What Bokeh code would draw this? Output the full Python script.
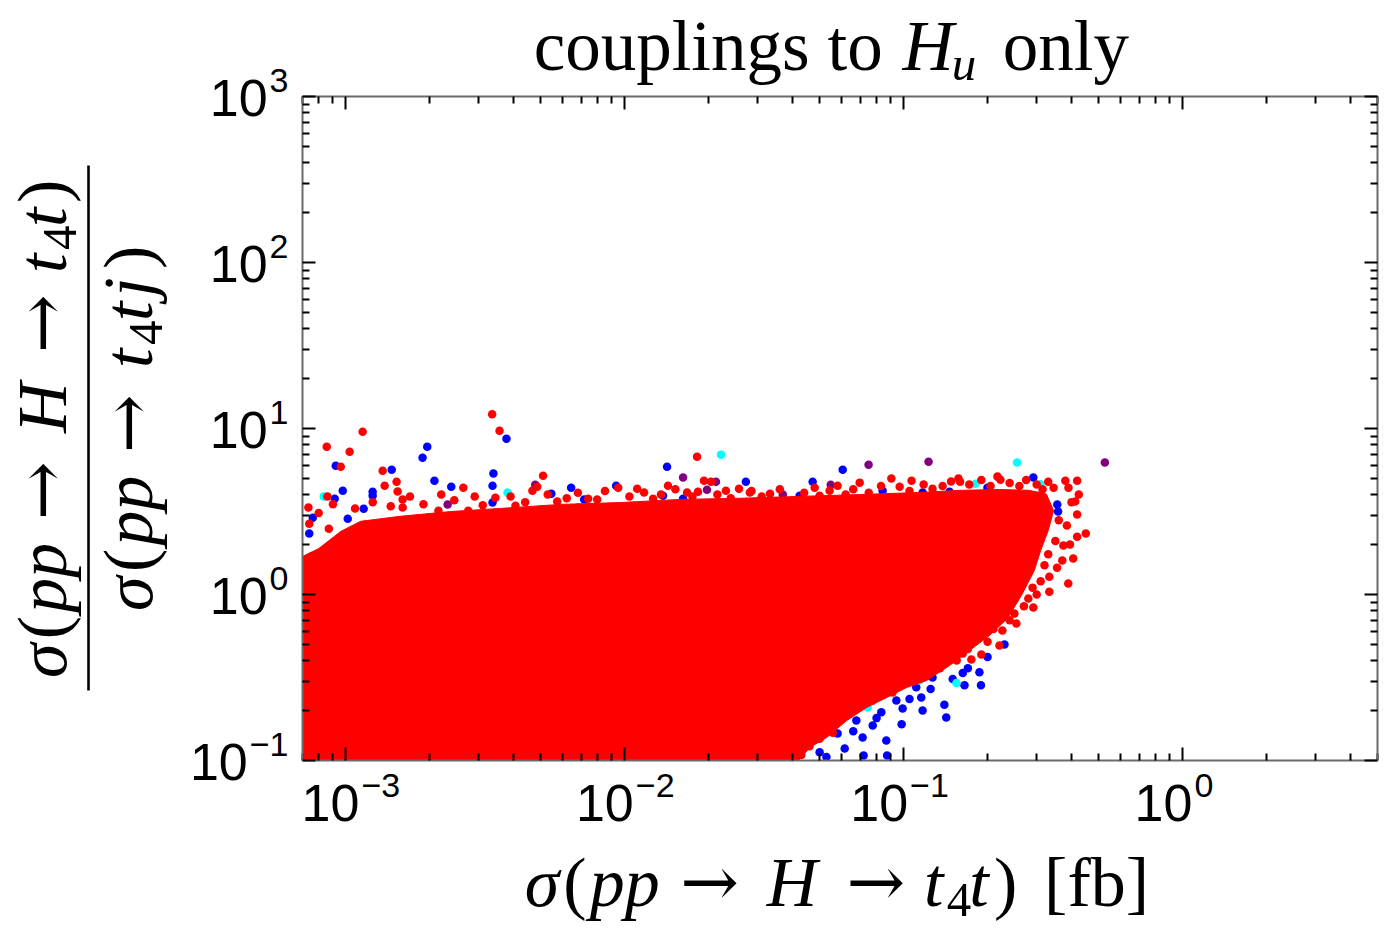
import math
from bokeh.plotting import figure
from bokeh.models import Range1d, LogAxis, FixedTicker, CustomJSTickFormatter
from bokeh.layouts import row, column
from bokeh.core.properties import value
from bokeh.embed import file_html
from bokeh.resources import INLINE

# ---------------- data ----------------
X_MIN, X_MAX = 7e-4, 5.0
Y_MIN, Y_MAX = 0.1, 1000.0

x_major = [1e-3, 1e-2, 1e-1, 1.0]
x_exponents = ["\u22123", "\u22122", "\u22121", "0"]
y_major = [0.1, 1.0, 10.0, 100.0, 1000.0]
y_exponents = ["\u22121", "0", "1", "2", "3"]

# outline of the dense (solid) red cloud
red_region_x = [6e-4, 6e-4, 8.0e-4, 9.6e-4, 1.131e-3, 1.573e-3, 2.376e-3, 3.585e-3, 5.88e-3,
                9.64e-3, 0.0158, 0.0259, 0.0424, 0.0696, 0.114, 0.1586, 0.2206, 0.2823,
                0.325, 0.345, 0.33, 0.31, 0.2942, 0.2644, 0.2355, 0.2031, 0.1722,
                0.1461, 0.1209, 0.1025, 0.0869, 0.0737, 0.0625, 0.053, 0.0461, 0.0375]
red_region_y = [0.08, 1.49, 1.89, 2.4, 2.76, 2.96, 3.16, 3.3, 3.49,
                3.58, 3.74, 3.8, 3.9, 4.0, 4.12, 4.24, 4.29, 4.24,
                4.03, 3.20, 2.43, 1.84, 1.393, 0.985, 0.716, 0.566, 0.4595,
                0.373, 0.303, 0.275, 0.2394, 0.2085, 0.174, 0.1376, 0.1198, 0.08]

red_x = [3.35e-3, 3.56e-3, 1.15e-3, 8.55e-4, 1.033e-3, 9.6e-4, 1.357e-3, 1.522e-3, 1.379e-3,
         1.535e-3, 5.1e-3, 2.64e-3, 8.6e-4, 7.35e-4, 0.01265, 0.01174, 0.01109, 9.48e-3,
         7.97e-3, 7.4e-3, 5.73e-3, 4.86e-3, 4.67e-3, 3.44e-3, 2.2e-3, 1.6e-3,
         0.01818, 0.0143, 0.01925, 0.0204, 0.02307, 0.0257, 0.0904, 0.1068, 0.1573, 0.217,
         0.0696, 0.058, 0.127, 0.0543, 0.01674, 0.01832, 0.0968, 0.0281, 0.0332, 0.05,
         0.1594, 0.2224, 0.330, 0.380, 0.419, 0.4247, 0.4124, 0.419, 0.45, 0.419, 0.3706,
         0.4056, 0.3894, 0.333, 0.333, 0.2918, 0.28, 0.2537, 0.226, 0.2206, 0.190, 0.175,
         0.374, 0.2495, 0.187, 0.163, 0.108, 0.0913, 0.0775, 0.0557,
         7.4e-4, 8.7e-4, 1.6e-3, 2.15e-3, 2.75e-3, 4.06e-3, 6.82e-3,
         8.0e-4, 9.0e-4, 1.08e-3, 1.25e-3, 1.45e-3, 1.7e-3, 1.9e-3, 2.45e-3, 2.9e-3, 3.1e-3,
         3.9e-3, 4.4e-3, 5.3e-3, 6.2e-3, 6.8e-3, 8.5e-3, 0.0104, 0.0135, 0.0152, 0.0175,
         0.0215, 0.024, 0.0285, 0.031, 0.036, 0.044, 0.048, 0.062, 0.066, 0.075, 0.083,
         0.105, 0.118, 0.138, 0.148, 0.172, 0.19, 0.205, 0.24, 0.26, 0.275, 0.3, 0.315,
         0.345, 0.39, 0.4,
         0.36, 0.385, 0.35, 0.395, 0.33, 0.355, 0.31, 0.32, 0.3, 0.27, 0.29, 0.24, 0.21,
         0.2, 0.17, 0.155, 0.135, 0.118, 0.1, 0.085, 0.07, 0.062, 0.057, 0.05, 0.046, 0.043]
red_y = [12.2, 9.7, 9.57, 7.77, 7.25, 5.89, 5.57, 4.78, 4.52,
         4.18, 5.2, 4.40, 3.89, 3.34, 3.78, 4.11, 4.34, 4.40,
         3.73, 3.78, 3.63, 4.46, 4.22, 3.83, 4.0, 3.73,
         6.76, 4.52, 4.85, 4.78, 4.22, 4.34, 4.99, 4.85, 4.99, 5.13,
         4.72, 4.52, 4.34, 4.22, 4.11, 4.16, 4.46, 4.11, 4.05, 3.94,
         4.78, 4.92, 4.78, 4.85, 4.85, 4.0, 3.63, 3.03, 2.33, 2.23, 1.6,
         1.645, 1.163, 1.28, 1.04, 0.834, 0.945, 0.668, 0.606, 0.4924, 0.4346, 0.4056,
         1.97, 0.767, 0.566, 0.441, 0.325, 0.257, 0.23, 0.147,
         2.67, 2.49, 3.34, 3.2, 3.2, 3.43, 3.34,
         3.1, 3.5, 3.3, 3.6, 3.4, 3.9, 3.5, 3.7, 3.9, 3.45,
         3.9, 3.6, 4.0, 3.8, 4.1, 4.2, 3.9, 4.0, 4.3, 3.9,
         4.0, 3.8, 4.2, 3.9, 4.3, 4.1, 4.4, 4.0, 4.3, 4.1, 4.5,
         4.2, 4.6, 4.5, 4.8, 4.6, 4.9, 4.5, 4.7, 4.5, 4.9, 4.6, 4.3,
         4.4, 4.4, 3.6,
         2.8, 2.6, 2.1, 2.0, 1.75, 1.45, 1.2, 1.5, 1.0, 0.85, 1.1, 0.7, 0.62,
         0.52, 0.47, 0.4, 0.36, 0.32, 0.29, 0.25, 0.215, 0.185, 0.165, 0.135, 0.122, 0.108]

blue_x = [3.77e-3, 1.96e-3, 1.886e-3, 9.21e-4, 1.462e-3, 3.385e-3, 3.36e-3, 2.08e-3, 2.39e-3,
          9.76e-4, 1.249e-3, 1.249e-3, 9.13e-4, 3.36e-3, 6.43e-3, 9.32e-3, 5.46e-3, 7.16e-3,
          1.16e-3, 7.62e-4, 7.4e-4, 1.017e-3,
          0.01419, 0.0605, 0.0472, 0.0272, 0.0841, 0.1461, 0.117, 0.0162, 0.01373, 0.0298,
          0.0424, 0.1998, 0.2918, 0.3066, 0.3556, 0.358,
          0.1894, 0.1653, 0.1422, 0.117, 0.0984, 0.0873, 0.0719, 0.140, 0.1157, 0.0992,
          0.0832, 0.0775, 0.0713, 0.0867, 0.0615, 0.0529, 0.127, 0.111, 0.0942, 0.0677,
          0.058, 0.187, 0.163, 0.05, 0.066, 0.08, 0.105, 0.125, 0.15, 0.17, 0.2, 0.23,
          7.49e-4, 9.29e-4]
blue_y = [8.68, 7.77, 6.67, 5.97, 5.65, 5.35, 4.52, 4.85, 4.46,
          4.22, 4.16, 3.94, 3.78, 3.58, 4.40, 4.52, 4.05, 3.73,
          3.29, 2.90, 2.33, 2.86,
          5.89, 5.65, 4.78, 4.78, 4.22, 4.16, 4.11, 3.78, 3.94, 3.43,
          3.94, 4.40, 5.06, 3.94, 3.49, 3.16,
          0.2844, 0.2844, 0.1815, 0.2, 0.1656, 0.1072, 0.1072, 0.217, 0.240, 0.206,
          0.195, 0.1625, 0.1376, 0.132, 0.118, 0.105, 0.316, 0.276, 0.23, 0.174,
          0.1455, 0.34, 0.337, 0.112, 0.15, 0.18, 0.235, 0.27, 0.31, 0.36, 0.42, 0.5,
          1.69, 1.6]

cyan_x = [0.02215, 0.181, 0.255, 0.309, 3.80e-3, 8.34e-4, 0.0385, 0.1547, 0.114, 0.0743]
cyan_y = [6.96, 4.65, 6.23, 4.62, 4.11, 3.89, 3.63, 0.2928, 0.303, 0.2085]

purple_x = [0.5267, 0.1229, 0.0749, 0.0162, 0.01973, 0.02125, 4.78e-3, 2.32e-3, 0.0369, 0.0548]
purple_y = [6.23, 6.31, 6.05, 5.06, 4.28, 4.78, 4.59, 3.48, 4.0, 4.59]

# ---------------- page geometry (pixels) ----------------
W, H = 1389, 947
FL, FR, FT, FB = 302, 1377, 96, 760      # plot frame edges on the page
LEFT_W, TOP_H = 296, 90                  # side panels
PAD = 6
MAIN_W = W - LEFT_W
MAIN_H = (FB - FT) + 2 * PAD
BOT_H = H - TOP_H - MAIN_H

LX0, LXD = math.log10(X_MIN), math.log10(X_MAX / X_MIN)
LY0, LYD = math.log10(Y_MIN), math.log10(Y_MAX / Y_MIN)


def px_to_x(X):
    return 10 ** (LX0 + (X - FL) / (FR - FL) * LXD)


def px_to_y(Y):
    return 10 ** (LY0 + (FB - Y) / (FB - FT) * LYD)


def bare(fig):
    fig.grid.visible = False
    fig.outline_line_color = None
    fig.background_fill_color = "white"
    fig.border_fill_color = "white"
    return fig


# ---------------- main plot ----------------
p = figure(width=MAIN_W, height=MAIN_H, x_axis_type="log", y_axis_type="log",
           x_range=Range1d(X_MIN, X_MAX), y_range=Range1d(Y_MIN, Y_MAX),
           output_backend="svg", toolbar_location=None,
           min_border_left=FL - LEFT_W, min_border_right=W - FR,
           min_border_top=PAD, min_border_bottom=PAD)
bare(p)
p.add_layout(LogAxis(), "above")
p.add_layout(LogAxis(), "right")

x_minor = [m * 10.0 ** e for e in range(-4, 1) for m in range(2, 10)
           if X_MIN * 0.999 <= m * 10.0 ** e <= X_MAX * 1.001]
y_minor = [m * 10.0 ** e for e in range(-1, 3) for m in range(2, 10)]

blank = CustomJSTickFormatter(code="return '';")
for ax in list(p.xaxis) + list(p.yaxis):
    ax.formatter = blank
    ax.axis_line_color = "#6b6b6b"
    ax.axis_line_width = 2
    ax.major_tick_line_color = "black"
    ax.major_tick_line_width = 2
    ax.major_tick_in = 13
    ax.major_tick_out = 0
    ax.minor_tick_line_color = "black"
    ax.minor_tick_line_width = 2
    ax.minor_tick_in = 7
    ax.minor_tick_out = 0
    ax.major_label_standoff = 0
for ax in p.xaxis:
    ax.ticker = FixedTicker(ticks=x_major, minor_ticks=x_minor)
for ax in p.yaxis:
    ax.ticker = FixedTicker(ticks=y_major, minor_ticks=y_minor)

S = 8.5
p.scatter(blue_x, blue_y, size=S, fill_color="#0000ff", line_color=None)
p.scatter(cyan_x, cyan_y, size=S, fill_color="#00ffff", line_color=None)
p.scatter(purple_x, purple_y, size=S, fill_color="#800080", line_color=None)
p.patch(red_region_x, red_region_y, fill_color="#ff0000", line_color="#ff0000", line_width=1)
p.scatter(red_x, red_y, size=S, fill_color="#ff0000", line_color=None)

# ---------------- text panels ----------------
SERIF = "Liberation Serif"
SANS = "Liberation Sans"
ARROWF = "DejaVu Serif"
# the rendered anchor sits at mid-height of the em box; shift to put the baseline where wanted
KMID = {SERIF: 0.3375, SANS: 0.3465, ARROWF: 0.346}
ARW = 70   # arrow font size


def txt(fig, x, y, t, size, font=SERIF, style="normal", align="left", angle=0.0,
        xoff=0.0, yoff=0.0):
    fig.text(x=[x], y=[y], text=[t], text_font=value(font), text_font_size=value(f"{size}px"),
             text_font_style=style, text_align=align, text_baseline="alphabetic", angle=angle,
             x_offset=xoff, y_offset=yoff, text_color="black")


def hrun(fig, x, Y, t, size, font=SERIF, style="normal", align="left", xoff=0.0):
    """Y is the desired baseline in page pixels (panel y axis runs downward in page px)."""
    txt(fig, x, Y - KMID[font] * size, t, size, font=font, style=style, align=align, xoff=xoff)


# title panel (page pixels, y downward)
top = bare(figure(width=MAIN_W, height=TOP_H, x_range=Range1d(LEFT_W, W), y_range=Range1d(TOP_H, 0),
                  output_backend="svg", toolbar_location=None, min_border=0,
                  x_axis_location=None, y_axis_location=None))
TS = 71
hrun(top, 531, 69, "couplings to", TS)
hrun(top, 906, 69, "H", TS, style="italic")
hrun(top, 956, 80, "u", int(TS * 0.7), style="italic")
hrun(top, 1008, 69, "only", TS)

# bottom panel: x tick labels + x axis label
y_top_bot = TOP_H + MAIN_H
bot = bare(figure(width=MAIN_W, height=BOT_H, x_axis_type="log",
                  x_range=Range1d(px_to_x(LEFT_W), px_to_x(W)), y_range=Range1d(H, y_top_bot),
                  output_backend="svg", toolbar_location=None, min_border=0,
                  x_axis_location=None, y_axis_location=None))
BASE, EXP = 52, 34
DIG, MINUS = 0.556 * EXP, 0.584 * EXP
W10 = 1.112 * BASE


def exp_width(s):
    return sum(MINUS if c == "\u2212" else DIG for c in s)


for v, e in zip(x_major, x_exponents):
    tot = W10 + 2 + exp_width(e)
    hrun(bot, v, 821, "10", BASE, font=SANS, xoff=-tot / 2)
    hrun(bot, v, 797, e, EXP, font=SANS, xoff=-tot / 2 + W10 + 2)

LS = 70
SUB = int(LS * 0.7)
xb = 906
for t, X, st in [("\u03c3", 522, "italic"), ("(", 561, "normal"), ("pp", 588, "italic"),
                 ("H", 768, "italic"), ("t", 928, "italic"), ("t", 974, "italic"),
                 (")", 999, "normal"), ("[fb]", 1050, "normal")]:
    hrun(bot, px_to_x(X), xb, t, LS, style=st)
for X in (680, 849):
    hrun(bot, px_to_x(X), xb, "\u2192", ARW, font=ARROWF)
hrun(bot, px_to_x(951), xb + 10, "4", SUB)

# left panel: y tick labels + rotated fraction label
left = bare(figure(width=LEFT_W, height=H, y_axis_type="log",
                   x_range=Range1d(0, LEFT_W), y_range=Range1d(px_to_y(H), px_to_y(0)),
                   output_backend="svg", toolbar_location=None, min_border=0,
                   x_axis_location=None, y_axis_location=None))
for v, e in zip(y_major, y_exponents):
    ew = exp_width(e)
    txt(left, 288 - ew - 2, v, "10", BASE, font=SANS, align="right",
        yoff=20 - KMID[SANS] * BASE)
    txt(left, 288, v, e, EXP, font=SANS, align="right", yoff=-4 - KMID[SANS] * EXP)

ANG = math.pi / 2


def rot_runs(runs, xbase, ystart):
    for t, s, st, kind in runs:
        if kind == "sub":
            size, font, xb_ = SUB, SERIF, xbase + 10
        elif kind == "arrow":
            size, font, xb_ = ARW, ARROWF, xbase
        else:
            size, font, xb_ = LS, SERIF, xbase
        txt(left, xb_ - KMID[font] * size, px_to_y(ystart - s), t, size,
            font=font, style=st, angle=ANG)


num = [("\u03c3", 0, "italic", ""), ("(", 38.8, "normal", ""), ("pp", 65.3, "italic", ""),
       ("\u2192", 158, "normal", "arrow"), ("H", 245, "italic", ""),
       ("\u2192", 325, "normal", "arrow"), ("t", 405, "italic", ""), ("4", 428, "normal", "sub"),
       ("t", 451, "italic", ""), (")", 475, "normal", "")]
den = [("\u03c3", 0, "italic", ""), ("(", 38.8, "normal", ""), ("pp", 65.3, "italic", ""),
       ("\u2192", 158, "normal", "arrow"), ("t", 243, "italic", ""),
       ("4", 266, "normal", "sub"), ("t", 290, "italic", ""), ("j", 314, "italic", ""),
       (")", 342, "normal", "")]
rot_runs(num, 66, 677.5)
rot_runs(den, 152, 610.4)
left.segment(x0=[88], y0=[px_to_y(165)], x1=[88], y1=[px_to_y(690)],
             line_color="black", line_width=2.6)

layout = row(left, column(top, p, bot, spacing=0), spacing=0)
open("out.html", "w").write(file_html(layout, INLINE))
